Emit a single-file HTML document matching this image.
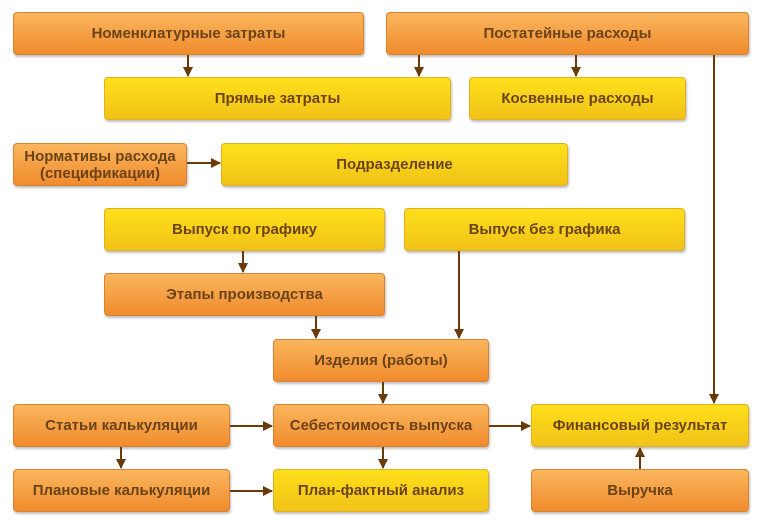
<!DOCTYPE html>
<html><head><meta charset="utf-8"><style>
body{margin:0;width:764px;height:531px;background:#fff;position:relative;overflow:hidden;font-family:"Liberation Sans",sans-serif}
.b{position:absolute;box-sizing:border-box;border-radius:4px;display:flex;align-items:center;justify-content:center;text-align:center;font-weight:bold;font-size:15px;color:#6b4318;line-height:17px;box-shadow:1px 2px 2px rgba(0,0,0,.25)}
.o{background:linear-gradient(#fab65d,#f08b2e);border:1px solid #d88330}
.y{background:linear-gradient(#fde01a,#f1c218);border:1px solid #e0b020}
svg{position:absolute;left:0;top:0}
</style></head><body>
<div class="b o" style="left:13px;top:12px;width:351px;height:43px">Номенклатурные затраты</div>
<div class="b o" style="left:386px;top:12px;width:363px;height:43px">Постатейные расходы</div>
<div class="b y" style="left:104px;top:77px;width:347px;height:43px">Прямые затраты</div>
<div class="b y" style="left:469px;top:77px;width:217px;height:43px">Косвенные расходы</div>
<div class="b o" style="left:13px;top:143px;width:174px;height:43px">Нормативы расхода<br>(спецификации)</div>
<div class="b y" style="left:221px;top:143px;width:347px;height:43px">Подразделение</div>
<div class="b y" style="left:104px;top:208px;width:281px;height:43px">Выпуск по графику</div>
<div class="b y" style="left:404px;top:208px;width:281px;height:43px">Выпуск без графика</div>
<div class="b o" style="left:104px;top:273px;width:281px;height:43px">Этапы производства</div>
<div class="b o" style="left:273px;top:339px;width:216px;height:43px">Изделия (работы)</div>
<div class="b o" style="left:13px;top:404px;width:217px;height:43px">Статьи калькуляции</div>
<div class="b o" style="left:273px;top:404px;width:216px;height:43px">Себестоимость выпуска</div>
<div class="b y" style="left:531px;top:404px;width:218px;height:43px">Финансовый результат</div>
<div class="b o" style="left:13px;top:469px;width:217px;height:43px">Плановые калькуляции</div>
<div class="b y" style="left:273px;top:469px;width:216px;height:43px">План-фактный анализ</div>
<div class="b o" style="left:531px;top:469px;width:218px;height:43px">Выручка</div>
<svg width="764" height="531">
<defs><marker id="a" markerWidth="10" markerHeight="10" refX="9" refY="5" orient="auto" markerUnits="userSpaceOnUse"><path d="M0,0L10,5L0,10z" fill="#6b3a0a"/></marker></defs>
<g stroke="#6b3a0a" stroke-width="2" fill="none" marker-end="url(#a)">
<line x1="188" y1="55" x2="188" y2="76"/>
<line x1="419" y1="55" x2="419" y2="76"/>
<line x1="576" y1="55" x2="576" y2="76"/>
<line x1="714" y1="55" x2="714" y2="403"/>
<line x1="187" y1="163" x2="220" y2="163"/>
<line x1="243" y1="251" x2="243" y2="272"/>
<line x1="316" y1="316" x2="316" y2="338"/>
<line x1="459" y1="251" x2="459" y2="338"/>
<line x1="383" y1="382" x2="383" y2="403"/>
<line x1="230" y1="426" x2="272" y2="426"/>
<line x1="489" y1="426" x2="530" y2="426"/>
<line x1="121" y1="447" x2="121" y2="468"/>
<line x1="383" y1="447" x2="383" y2="468"/>
<line x1="230" y1="491" x2="272" y2="491"/>
<line x1="640" y1="469" x2="640" y2="448"/>
</g></svg>
</body></html>
